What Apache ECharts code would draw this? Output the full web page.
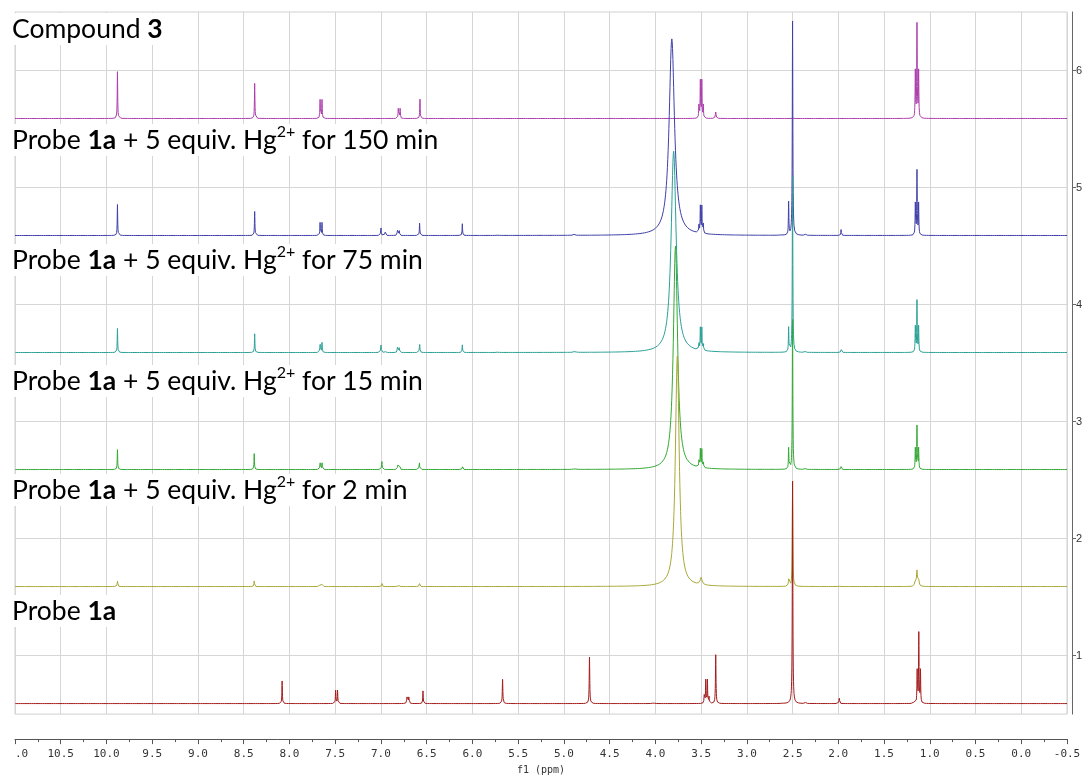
<!DOCTYPE html>
<html>
<head>
<meta charset="utf-8">
<style>
  html, body { margin: 0; padding: 0; background: #fff; }
  #chart { width: 1089px; height: 780px; }
</style>
<script src="https://cdn.jsdelivr.net/npm/echarts@6/dist/echarts.min.js"></script>
</head>
<body>
<div id="chart"></div>
<script>
// 横轴 (ppm) 与纵轴 (叠图偏移) 范围
const ppmRange = [-0.5, 11];
const yRange = [0.5, 6.5];
const yTicks = [1, 2, 3, 4, 5, 6];

// 各谱图名称、基线位置
const spectrumNames = ['Compound 3', '150 min', '75 min', '15 min', '2 min', 'Probe 1a'];
const baselines = [5.59, 4.59, 3.59, 2.59, 1.59, 0.59];

// 谱线 [化学位移 ppm, 峰高, 半峰宽 ppm(可省略)]
const compound3 = [
  [9.88, 0.40], [8.38, 0.30], [7.665, 0.16], [7.644, 0.16],
  [6.81, 0.085], [6.79, 0.085], [6.573, 0.165],
  [3.524, 0.11], [3.508, 0.32], [3.492, 0.32], [3.476, 0.11],
  [3.34, 0.055, 0.01], [2.50, 0.02],
  [1.158, 0.40], [1.14, 0.80], [1.122, 0.40]
];
const hg150 = [
  [9.88, 0.265], [8.38, 0.205], [7.665, 0.11], [7.644, 0.11],
  [7.0, 0.08], [6.955, 0.035], [6.82, 0.055], [6.80, 0.05],
  [6.577, 0.105], [6.11, 0.10], [5.72, 0.01, 0.01], [4.89, 0.008, 0.02],
  [3.82, 1.68, 0.07],
  [3.524, 0.08], [3.508, 0.23], [3.492, 0.23], [3.476, 0.08],
  [2.63, 0.01, 0.01], [2.543, 0.28], [2.50, 1.83, 0.007], [2.36, 0.008, 0.01],
  [1.97, 0.05], [1.158, 0.27], [1.14, 0.55], [1.122, 0.27]
];
const hg75 = [
  [9.88, 0.205], [8.38, 0.16], [7.665, 0.085], [7.644, 0.085],
  [7.0, 0.08], [6.955, 0.02], [6.82, 0.045], [6.80, 0.04],
  [6.577, 0.085], [6.11, 0.065], [5.72, 0.008, 0.01], [4.88, 0.01, 0.02],
  [3.80, 1.72, 0.065],
  [3.524, 0.065], [3.508, 0.19], [3.492, 0.19], [3.476, 0.065],
  [2.543, 0.21], [2.50, 1.5, 0.007], [2.36, 0.008, 0.01], [1.97, 0.034],
  [1.158, 0.22], [1.14, 0.44], [1.122, 0.22]
];
const hg15 = [
  [9.88, 0.17], [8.385, 0.136], [7.665, 0.07], [7.644, 0.07],
  [6.99, 0.085], [6.815, 0.037, 0.008], [6.795, 0.03, 0.008],
  [6.58, 0.071], [6.11, 0.034], [4.88, 0.008, 0.02],
  [3.78, 1.91, 0.055],
  [3.524, 0.055], [3.508, 0.155], [3.492, 0.155], [3.476, 0.055],
  [2.543, 0.18], [2.50, 1.28, 0.007], [2.36, 0.008, 0.01], [1.97, 0.025],
  [1.158, 0.18], [1.14, 0.37], [1.122, 0.18]
];
const hg2 = [
  [9.88, 0.057], [8.385, 0.048], [7.665, 0.022], [7.644, 0.022],
  [6.99, 0.037], [6.81, 0.014, 0.012], [6.58, 0.031],
  [3.76, 1.97, 0.05], [3.50, 0.06, 0.025],
  [2.543, 0.074], [2.50, 0.9, 0.007], [1.99, 0.01],
  [1.158, 0.06, 0.012], [1.14, 0.13, 0.012], [1.122, 0.06, 0.012]
];
const probe1a = [
  [8.08, 0.193], [7.495, 0.113], [7.474, 0.113],
  [6.715, 0.055, 0.008], [6.695, 0.055, 0.008], [6.54, 0.108],
  [5.67, 0.207, 0.007], [4.72, 0.397, 0.007], [4.02, 0.01, 0.015],
  [3.466, 0.07], [3.449, 0.2], [3.431, 0.2], [3.414, 0.07],
  [3.34, 0.417, 0.007], [2.61, 0.008, 0.01], [2.50, 1.9, 0.007], [2.36, 0.008, 0.01],
  [1.99, 0.057], [1.17, 0.015, 0.01],
  [1.138, 0.28], [1.12, 0.6], [1.102, 0.28]
];
const spectra = [compound3, hg150, hg75, hg15, hg2, probe1a];
const colors = ['#ab3cab', '#3f3fa8', '#2aa096', '#33a833', '#a8a838', '#a31c1c'];

// 谱图标题 (富文本)
const labels = [
  '{n|Compound }{b|3}',
  '{n|Probe }{b|1a}{n| + 5 equiv. Hg}{s|2+}{n| for 150 min}',
  '{n|Probe }{b|1a}{n| + 5 equiv. Hg}{s|2+}{n| for 75 min}',
  '{n|Probe }{b|1a}{n| + 5 equiv. Hg}{s|2+}{n| for 15 min}',
  '{n|Probe }{b|1a}{n| + 5 equiv. Hg}{s|2+}{n| for 2 min}',
  '{n|Probe }{b|1a}'
];
const labelTops = [13, 124, 244, 365, 474, 595];

const DEFAULT_WIDTH = 0.006;

// 由谱线表生成洛伦兹线型
function buildSpectrum(lines, base) {
  const xs = [];
  const step = 0.004;
  const n = Math.round((ppmRange[1] - ppmRange[0]) / step);
  for (let i = 0; i <= n; i++) xs.push(ppmRange[0] + i * step);
  lines.forEach(([c, h, w = DEFAULT_WIDTH]) => {
    for (let k = -8; k <= 8; k++) xs.push(c + k * w / 4);
  });
  xs.sort((a, b) => a - b);
  return xs.map((x) => {
    let y = base;
    lines.forEach(([c, h, w = DEFAULT_WIDTH]) => {
      const t = (x - c) / (w / 2);
      y += h / (1 + t * t);
    });
    return [x, y];
  });
}

const font = 'Lato';
const rich = {
  n: { fontFamily: font, fontSize: 26.5, lineHeight: 32, fill: '#000' },
  b: { fontFamily: font, fontSize: 26.5, lineHeight: 32, fontWeight: 'bold', fill: '#000' },
  s: { fontFamily: font, fontSize: 16, lineHeight: 17, verticalAlign: 'top', fill: '#000' }
};

const chart = echarts.init(document.getElementById('chart'));

chart.setOption({
  animation: false,
  grid: {
    left: 15, right: 22, top: 12, bottom: 62,
    show: true, borderColor: '#d0d0d0', borderWidth: 1
  },
  xAxis: {
    type: 'value',
    inverse: true,
    min: ppmRange[0],
    max: ppmRange[1],
    interval: 0.5,
    offset: 25,
    name: 'f1 (ppm)',
    nameLocation: 'middle',
    nameGap: 24,
    nameTextStyle: { fontFamily: 'DejaVu Sans Mono', fontSize: 10, color: '#333' },
    axisLine: { show: true, onZero: false, lineStyle: { color: '#555', width: 1 } },
    axisTick: { show: true, length: 5, lineStyle: { color: '#555' } },
    minorTick: { show: true, splitNumber: 2, length: 3, lineStyle: { color: '#555' } },
    axisLabel: {
      fontFamily: 'DejaVu Sans Mono', fontSize: 11, color: '#333', margin: 10,
      showMinLabel: true, showMaxLabel: true, alignMaxLabel: 'left',
      formatter: (v) => (v === 11 ? '.0' : v.toFixed(1))
    },
    splitLine: { show: true, lineStyle: { color: '#d6d6d6', width: 1 } }
  },
  yAxis: {
    type: 'value',
    position: 'right',
    min: yRange[0],
    max: yRange[1],
    interval: 0.5,
    offset: 5,
    axisLine: { show: true, onZero: false, lineStyle: { color: '#666', width: 1 } },
    axisTick: { show: true, length: 4, customValues: yTicks, lineStyle: { color: '#666' } },
    axisLabel: {
      customValues: yTicks, margin: 4,
      fontFamily: 'Liberation Sans', fontSize: 11, color: '#333'
    },
    splitLine: { show: true, lineStyle: { color: '#d6d6d6', width: 1 } }
  },
  series: spectra.map((lines, i) => ({
    name: spectrumNames[i],
    type: 'line',
    data: buildSpectrum(lines, baselines[i]),
    showSymbol: false,
    symbol: 'none',
    silent: true,
    clip: true,
    z: 2 + i,
    lineStyle: { color: colors[i], width: 1 }
  })),
  graphic: labels.map((text, i) => ({
    type: 'text',
    left: 10,
    top: labelTops[i],
    z: 100,
    style: { text, rich, backgroundColor: '#fff', padding: [0, 2] }
  }))
});
</script>
</body>
</html>
